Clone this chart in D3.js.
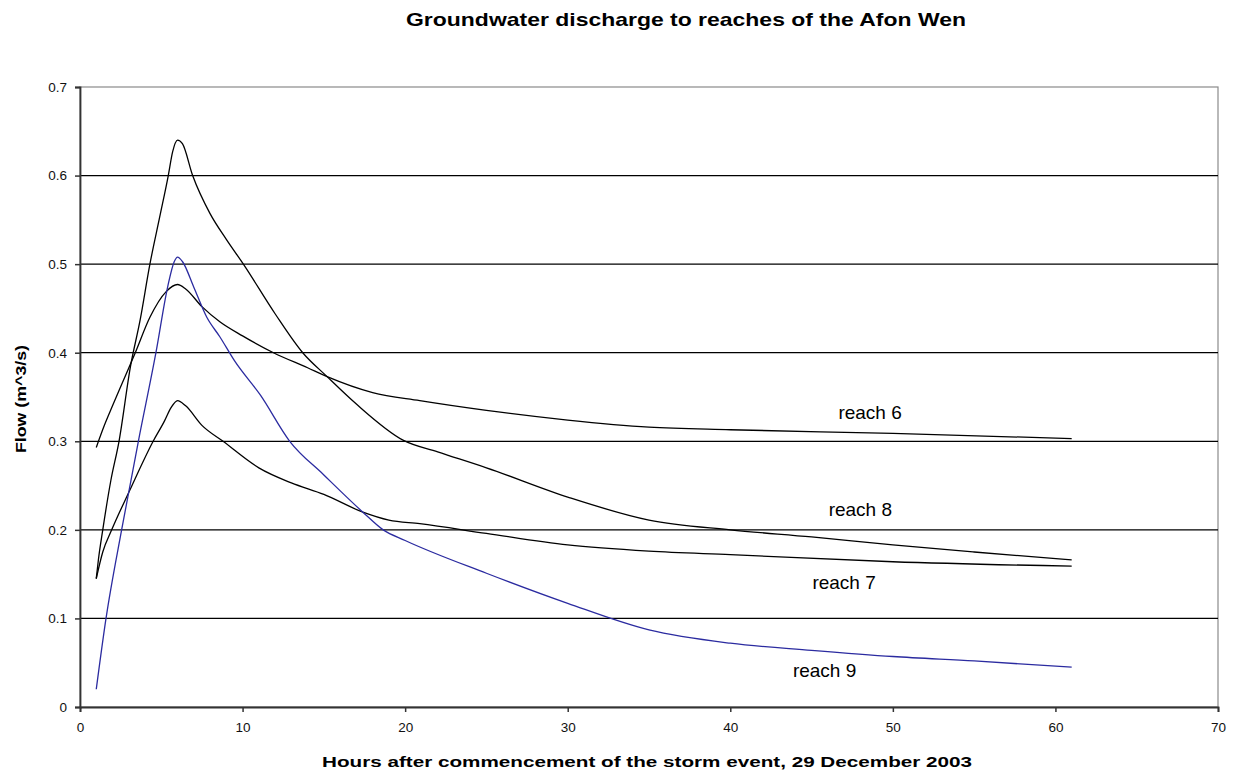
<!DOCTYPE html>
<html>
<head>
<meta charset="utf-8">
<script src="https://cdn.jsdelivr.net/npm/d3@7"></script>
<style>
  body { margin: 0; background: #fff; }
  text { font-family: Arial, "Liberation Sans", sans-serif; }
</style>
</head>
<body>
<script>
var width = 1239;
var height = 773;
var margin = {top: 87, right: 21, bottom: 66, left: 80};
var w = width - margin.left - margin.right;
var h = height - margin.top - margin.bottom;

// hours after the start of the storm, flow in m^3/s
var hours6 = [1, 1.5, 2, 2.7, 3.4, 4.3, 5.3, 6, 6.5, 7.5, 8.6, 10, 11.9, 14, 15.2, 18, 20.9, 25, 30, 35, 40, 50, 61];
var reach6 = [0.293, 0.318, 0.34, 0.37, 0.4, 0.44, 0.469, 0.477, 0.472, 0.452, 0.435, 0.419, 0.4, 0.383, 0.373, 0.355, 0.346, 0.335, 0.324, 0.316, 0.313, 0.309, 0.303];

var hours8 = [1, 1.13, 1.4, 1.9, 2.4, 3.1, 3.7, 4.3, 4.9, 5.43, 5.7, 6, 6.3, 6.93, 8, 9, 10.05, 12, 13.7, 15.2, 17, 19.9, 22, 25, 30, 35, 40, 45, 50, 55, 61];
var reach8 = [0.145, 0.166, 0.2, 0.256, 0.3, 0.384, 0.437, 0.5, 0.553, 0.6, 0.627, 0.64, 0.636, 0.6, 0.557, 0.528, 0.5, 0.444, 0.4, 0.373, 0.342, 0.301, 0.288, 0.27, 0.237, 0.211, 0.2, 0.192, 0.183, 0.175, 0.166];

var hours7 = [1, 1.4, 1.95, 3.07, 4.5, 5.2, 5.6, 6, 6.5, 7.5, 8.8, 11, 13, 15, 17.4, 19, 20.9, 25, 30, 35, 40, 50, 61];
var reach7 = [0.145, 0.175, 0.2, 0.245, 0.3, 0.323, 0.338, 0.346, 0.34, 0.318, 0.3, 0.27, 0.253, 0.24, 0.22, 0.211, 0.207, 0.196, 0.183, 0.176, 0.172, 0.164, 0.159];

var hours9 = [1, 1.6, 2.56, 3.59, 4.67, 5.4, 5.8, 6, 6.3, 7, 7.8, 8.6, 9.5, 11.1, 12.9, 15, 17.4, 18.65, 20, 25, 30, 35, 40, 45, 50, 55, 61];
var reach9 = [0.02, 0.1, 0.2, 0.3, 0.4, 0.475, 0.503, 0.508, 0.503, 0.474, 0.44, 0.418, 0.391, 0.352, 0.3, 0.262, 0.22, 0.2, 0.188, 0.151, 0.117, 0.087, 0.072, 0.064, 0.057, 0.052, 0.045];

var xTicks = [0, 10, 20, 30, 40, 50, 60, 70];
var yTicks = [0, 0.1, 0.2, 0.3, 0.4, 0.5, 0.6, 0.7];

var series = [
  {name: "reach 6", hours: hours6, flow: reach6, color: "#000", lx: 48.6, ly: 0.325},
  {name: "reach 8", hours: hours8, flow: reach8, color: "#000", lx: 48.0, ly: 0.216},
  {name: "reach 7", hours: hours7, flow: reach7, color: "#000", lx: 47.0, ly: 0.133},
  {name: "reach 9", hours: hours9, flow: reach9, color: "#2b2ba0", lx: 45.8, ly: 0.034}
];

var x = d3.scaleLinear().domain([0, 70]).range([0, w]);
var y = d3.scaleLinear().domain([0, 0.7]).range([h, 0]);

var svg = d3.select("body").append("svg")
  .attr("width", width)
  .attr("height", height);

svg.append("text")
  .attr("x", 686).attr("y", 26)
  .attr("text-anchor", "middle")
  .attr("font-size", 19).attr("font-weight", "bold")
  .attr("textLength", 560).attr("lengthAdjust", "spacingAndGlyphs")
  .text("Groundwater discharge to reaches of the Afon Wen");

var g = svg.append("g")
  .attr("transform", "translate(" + margin.left + "," + margin.top + ")");

// plot frame
g.append("rect")
  .attr("x", 0).attr("y", 0).attr("width", w).attr("height", h)
  .attr("fill", "none").attr("stroke", "#8a8a8a").attr("stroke-width", 1.2);

// gridlines
g.selectAll(".grid")
  .data(yTicks.filter(function(d) { return d > 0 && d < 0.7; }))
  .enter().append("line")
  .attr("class", "grid")
  .attr("x1", 0).attr("x2", w)
  .attr("y1", function(d) { return y(d); })
  .attr("y2", function(d) { return y(d); })
  .attr("stroke", "#000").attr("stroke-width", 1.3);

var xAxis = g.append("g")
  .attr("transform", "translate(0," + h + ")")
  .call(d3.axisBottom(x).tickValues(xTicks).tickSize(5).tickPadding(10));

var yAxis = g.append("g")
  .call(d3.axisLeft(y).tickValues(yTicks).tickSize(5).tickPadding(8)
    .tickFormat(function(d) { return d === 0 ? "0" : d3.format(".1f")(d); }));

[xAxis, yAxis].forEach(function(a) {
  a.select(".domain").attr("stroke", "#333").attr("stroke-width", 1.8);
  a.selectAll(".tick line").attr("stroke", "#333").attr("stroke-width", 1.5);
  a.selectAll(".tick text").attr("font-size", 13.5).attr("fill", "#111")
    .style("font-family", "Arial, 'Liberation Sans', sans-serif");
});

var line = d3.line()
  .x(function(d) { return x(d[0]); })
  .y(function(d) { return y(d[1]); })
  .curve(d3.curveMonotoneX);

series.forEach(function(s) {
  var pts = s.hours.map(function(hr, i) { return [hr, s.flow[i]]; });
  g.append("path")
    .datum(pts)
    .attr("d", line)
    .attr("fill", "none")
    .attr("stroke", s.color)
    .attr("stroke-width", 1.3);
  g.append("text")
    .attr("x", x(s.lx)).attr("y", y(s.ly))
    .attr("text-anchor", "middle")
    .attr("font-size", 19)
    .attr("fill", "#000")
    .text(s.name);
});

svg.append("text")
  .attr("x", 647).attr("y", 767)
  .attr("text-anchor", "middle")
  .attr("font-size", 15).attr("font-weight", "bold")
  .attr("textLength", 650).attr("lengthAdjust", "spacingAndGlyphs")
  .text("Hours after commencement of the storm event, 29 December 2003");

svg.append("text")
  .attr("transform", "translate(26,399) rotate(-90)")
  .attr("text-anchor", "middle")
  .attr("font-size", 15).attr("font-weight", "bold")
  .attr("textLength", 108).attr("lengthAdjust", "spacingAndGlyphs")
  .text("Flow (m^3/s)");
</script>
</body>
</html>
